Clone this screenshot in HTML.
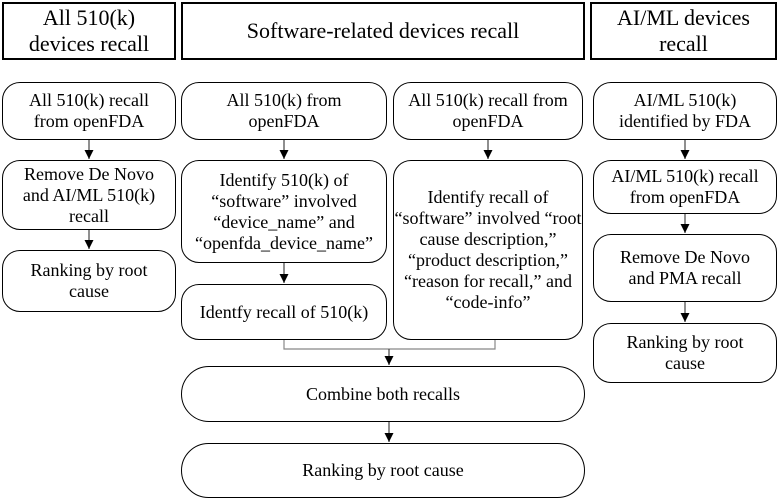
<!DOCTYPE html>
<html><head><style>
body{margin:0;width:779px;height:500px;background:#fff;font-family:"Liberation Serif",serif;color:#000;position:relative;overflow:hidden}
.b{position:absolute;box-sizing:border-box;border:1.5px solid #000;border-radius:18px;display:flex;align-items:center;justify-content:center;text-align:center;font-size:18px;line-height:21px}
.h{border-radius:0;border-width:2px;font-size:22px;line-height:26px}
svg{position:absolute;left:0;top:0}
</style></head><body>
<div class="b h" style="left:2px;top:2px;width:174px;height:58px">All 510(k)<br>devices recall</div>
<div class="b h" style="left:181px;top:2px;width:404px;height:58px">Software-related devices recall</div>
<div class="b h" style="left:590px;top:2px;width:187px;height:58px">AI/ML devices<br>recall</div>

<div class="b" style="left:2px;top:82px;width:174px;height:58px">All 510(k) recall<br>from openFDA</div>
<div class="b" style="left:2px;top:160px;width:174px;height:70px">Remove De Novo<br>and AI/ML 510(k)<br>recall</div>
<div class="b" style="left:2px;top:250px;width:174px;height:62px">Ranking by root<br>cause</div>

<div class="b" style="left:181px;top:82px;width:206px;height:58px">All 510(k) from<br>openFDA</div>
<div class="b" style="left:181px;top:160px;width:206px;height:103px">Identify 510(k) of<br>“software” involved<br>“device_name” and<br>“openfda_device_name”</div>
<div class="b" style="left:181px;top:284px;width:206px;height:56px">Identfy recall of 510(k)</div>

<div class="b" style="left:393px;top:82px;width:190px;height:58px">All 510(k) recall from<br>openFDA</div>
<div class="b" style="left:393px;top:160px;width:190px;height:180px">Identify recall of<br>“software” involved “root<br>cause description,”<br>“product description,”<br>“reason for recall,” and<br>“code-info”</div>

<div class="b" style="left:181px;top:366px;width:404px;height:56px;border-radius:28px">Combine both recalls</div>
<div class="b" style="left:181px;top:443px;width:404px;height:55px;border-radius:28px">Ranking by root cause</div>

<div class="b" style="left:593px;top:82px;width:184px;height:58px">AI/ML 510(k)<br>identified by FDA</div>
<div class="b" style="left:593px;top:160px;width:184px;height:54px">AI/ML 510(k) recall<br>from openFDA</div>
<div class="b" style="left:593px;top:234px;width:184px;height:68px">Remove De Novo<br>and PMA recall</div>
<div class="b" style="left:593px;top:323px;width:184px;height:60px">Ranking by root<br>cause</div>

<svg width="779" height="500">
<defs><marker id="a" markerWidth="10" markerHeight="10" refX="9" refY="4.5" orient="auto" markerUnits="userSpaceOnUse"><path d="M0,0 L9,4.5 L0,9 z" fill="#000"/></marker></defs>
<g stroke="#444" stroke-width="1.2" fill="none">
<line x1="89" y1="140" x2="89" y2="159" marker-end="url(#a)"/>
<line x1="89" y1="230" x2="89" y2="249" marker-end="url(#a)"/>
<line x1="284" y1="140" x2="284" y2="159" marker-end="url(#a)"/>
<line x1="284" y1="263" x2="284" y2="283" marker-end="url(#a)"/>
<line x1="488" y1="140" x2="488" y2="159" marker-end="url(#a)"/>
<polyline points="284,340 284,349 495,349 495,340" stroke="#888"/>
<line x1="389" y1="349" x2="389" y2="365" marker-end="url(#a)"/>
<line x1="389" y1="422" x2="389" y2="442" marker-end="url(#a)"/>
<line x1="685" y1="140" x2="685" y2="159" marker-end="url(#a)"/>
<line x1="685" y1="214" x2="685" y2="233" marker-end="url(#a)"/>
<line x1="685" y1="302" x2="685" y2="322" marker-end="url(#a)"/>
</g></svg>
</body></html>
